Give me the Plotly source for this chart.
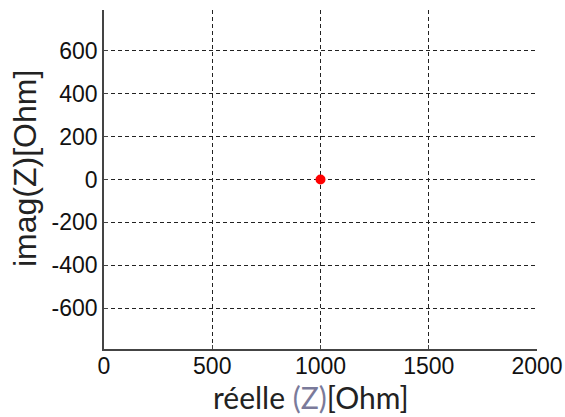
import plotly.graph_objects as go

# impedance point in the complex plane
z_real = [1000]
z_imag = [0]

x_ticks = [0, 500, 1000, 1500, 2000]
y_ticks = [-600, -400, -200, 0, 200, 400, 600]

W, H = 565, 417
ML, MR, MT, MB = 104, 28, 10, 68
PW, PH = W - ML - MR, H - MT - MB

fig = go.Figure()
fig.add_trace(go.Scatter(
    x=z_real, y=z_imag, mode="markers",
    marker=dict(color="#ff0000", size=10),
    showlegend=False,
))

tick_font = dict(family="Liberation Sans, Arial", size=23, color="#111111")
axis_common = dict(
    showgrid=True, gridcolor="#222222", griddash="4px,3px", gridwidth=1,
    showline=True, linecolor="#444444", linewidth=1.5,
    ticks="inside", ticklen=4, tickcolor="#444444",
    zeroline=False, tickfont=tick_font, automargin=False,
)

fig.update_layout(
    width=W, height=H,
    margin=dict(l=ML, r=MR, t=MT, b=MB),
    paper_bgcolor="white", plot_bgcolor="white",
    xaxis=dict(range=[0, 2000], tickvals=x_ticks,
               ticktext=[str(v) for v in x_ticks],
               ticklabelstandoff=-4, **axis_common),
    yaxis=dict(range=[-790, 790], tickvals=y_ticks,
               ticktext=[str(v) for v in y_ticks], **axis_common),
)

# axis titles, placed in pixel terms relative to the plot area
fig.add_annotation(
    text="réelle <span style='color:#7a7a9a'>(Z)</span>[Ohm]",
    xref="paper", yref="paper",
    x=(311 - ML) / PW, y=-(397 - (H - MB)) / PH,
    xanchor="center", yanchor="middle", showarrow=False,
    font=dict(family="Lato, Open Sans", size=30, color="#222222"),
)
fig.add_annotation(
    text="imag(Z)[Ohm]", textangle=-90,
    xref="paper", yref="paper",
    x=(25 - ML) / PW, y=((H - MB) - 169) / PH,
    xanchor="center", yanchor="middle", showarrow=False,
    font=dict(family="Liberation Sans, Arial", size=32, color="#222222"),
)

fig.write_html("out.html")
